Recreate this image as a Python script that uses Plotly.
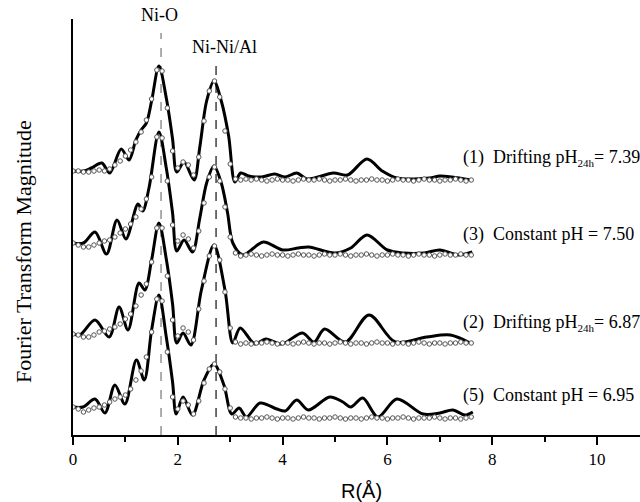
import plotly.graph_objects as go

# ---------------- data ----------------
labels = ["(1)&nbsp; Drifting pH<sub><span style='font-size:11px'>24h</span></sub>= 7.39",
          "(3)&nbsp; Constant pH = 7.50",
          "(2)&nbsp; Drifting pH<sub><span style='font-size:11px'>24h</span></sub>= 6.87",
          "(5)&nbsp; Constant pH = 6.95"]
offsets = [25.4, 18.2, 9.1, 1.8]

# experimental spectra (R, magnitude) key points
exp1_r = [0.0, 0.2, 0.35, 0.55, 0.7, 0.92, 1.07, 1.2, 1.3, 1.4, 1.5, 1.64, 1.78, 1.9, 1.98, 2.12, 2.31, 2.42, 2.55,
          2.69, 2.83, 2.97, 3.09, 3.2, 3.35, 3.6, 3.85, 4.05, 4.27, 4.47, 4.97, 5.24, 5.61, 5.9, 6.18, 6.8, 7.0, 7.23, 7.6]
exp1_m = [1.0, 1.0, 1.3, 1.8, 0.8, 3.2, 2.1, 4.1, 5.1, 5.8, 8.0, 11.5, 8.3, 4.2, 0.9, 1.9, 0.1, 3.4, 8.0,
          10.0, 8.0, 4.5, -0.1, 0.8, 0.5, 0.4, 0.7, 0.4, 0.8, 0.2, 0.8, 0.6, 2.2, 1.0, 0.3, 0.3, 0.5, 0.4, 0.1]

exp2_r = [0.0, 0.2, 0.42, 0.64, 0.84, 1.01, 1.24, 1.33, 1.45, 1.64, 1.78, 1.9, 1.98, 2.12, 2.28, 2.42, 2.55, 2.69,
          2.83, 2.95, 3.05, 3.24, 3.63, 4.0, 4.3, 4.5, 5.0, 5.3, 5.61, 6.0, 6.3, 6.7, 7.0, 7.35, 7.62]
exp2_m = [1.0, 1.0, 2.1, -0.1, 3.3, 1.4, 4.9, 4.2, 6.5, 12.1, 8.5, 4.0, 0.2, 1.3, 0.1, 3.5, 7.0, 8.7,
          7.0, 4.0, 1.0, -0.2, 1.1, 0.3, 0.5, 0.6, 0.0, 0.5, 1.8, 0.3, 0.0, 0.0, 0.3, -0.2, 0.1]

exp3_r = [0.0, 0.13, 0.42, 0.69, 0.88, 1.05, 1.26, 1.37, 1.5, 1.64, 1.78, 1.9, 1.98, 2.1, 2.25, 2.45, 2.69, 2.9,
          3.05, 3.19, 3.47, 3.68, 3.98, 4.38, 4.6, 4.8, 5.2, 5.65, 6.15, 6.75, 7.2, 7.58]
exp3_m = [1.0, 0.9, 2.4, 0.7, 3.7, 1.4, 6.1, 5.4, 8.4, 12.1, 8.5, 4.0, 0.1, 1.1, -0.1, 5.4, 9.9, 5.4,
          0.1, 1.6, 0.0, 0.5, 0.0, 1.1, 0.2, 1.5, 0.2, 2.9, 0.2, 0.7, 0.9, 0.1]

exp4_r = [0.0, 0.19, 0.42, 0.61, 0.8, 0.99, 1.21, 1.36, 1.5, 1.64, 1.78, 1.9, 1.97, 2.1, 2.28, 2.5, 2.69, 2.88,
          3.03, 3.17, 3.31, 3.57, 3.89, 4.05, 4.27, 4.49, 4.9, 5.15, 5.3, 5.53, 5.82, 6.18, 6.68, 7.0, 7.25, 7.48, 7.63]
exp4_m = [1.0, 1.0, 1.8, 0.4, 3.2, 1.3, 5.7, 3.7, 8.7, 12.2, 8.0, 3.5, 0.3, 2.0, 0.2, 3.7, 5.3, 3.2,
          0.3, 0.9, 0.0, 1.4, 0.8, 0.6, 1.7, 0.7, 2.0, 1.5, 1.0, 1.9, 0.0, 1.8, 0.3, 0.4, 0.7, 0.2, 0.5]

# fits, sampled every 0.1 Angstrom from R = 0
fit1_m = [1.0, 1.0, 0.9, 0.9, 1.0, 1.1, 1.0, 1.2, 1.6, 2.0,
          2.5, 3.1, 3.9, 4.9, 6.1, 8.2, 11.1, 11.0, 7.3, 3.0,
          1.3, 1.9, 1.6, 0.6, 2.4, 6.0, 9.0, 10.0, 8.4, 5.0,
          1.7, 0.2, 0.1,
          0.2, 0.1, 0.2, 0.1, 0.0, 0.1, 0.2, 0.1, 0.1, 0.0,
          0.1, 0.2, 0.1, 0.1, 0.2, 0.1, 0.0, 0.1, 0.1, 0.2,
          0.1, 0.0, 0.1, 0.1, 0.2, 0.1, 0.1, 0.0, 0.1, 0.2,
          0.1, 0.1, 0.0, 0.1, 0.2, 0.1, 0.1, 0.0, 0.1, 0.1,
          0.2, 0.1, 0.0, 0.1]
fit2_m = [1.0, 0.8, 0.6, 0.6, 0.8, 1.0, 1.2, 1.3, 1.6, 2.0,
          2.4, 2.9, 3.6, 4.4, 5.4, 7.6, 11.6, 11.5, 7.2, 2.8,
          1.2, 1.8, 1.4, 0.5, 2.2, 5.0, 7.6, 8.6, 7.2, 4.6,
          1.6, 0.0, -0.3,
          -0.2, -0.1, -0.2, -0.3, -0.2, -0.1, -0.2, -0.2, -0.3, -0.2,
          -0.1, -0.2, -0.2, -0.3, -0.2, -0.1, -0.2, -0.2, -0.1, -0.2,
          -0.3, -0.2, -0.2, -0.1, -0.2, -0.3, -0.2, -0.2, -0.1, -0.2,
          -0.2, -0.3, -0.2, -0.1, -0.2, -0.2, -0.3, -0.2, -0.1, -0.2,
          -0.2, -0.1, -0.2, -0.2]
fit3_m = [1.0, 0.9, 0.7, 0.7, 0.9, 1.2, 1.3, 1.5, 1.7, 2.0,
          2.5, 3.0, 3.8, 4.9, 6.0, 8.2, 11.6, 11.6, 6.8, 2.4,
          0.8, 1.6, 1.2, 0.4, 3.5, 6.3, 8.8, 9.8, 8.4, 5.2,
          1.6, 0.2, 0.0,
          0.1, 0.0, 0.1, 0.1, 0.2, 0.1, 0.0, 0.1, 0.1, 0.0,
          0.1, 0.2, 0.1, 0.0, 0.1, 0.1, 0.0, 0.1, 0.2, 0.1,
          0.0, 0.1, 0.1, 0.0, 0.1, 0.2, 0.1, 0.1, 0.0, 0.1,
          0.1, 0.0, 0.1, 0.2, 0.1, 0.0, 0.1, 0.1, 0.0, 0.1,
          0.1, 0.2, 0.1, 0.1]
fit4_m = [1.0, 0.8, 0.5, 0.7, 0.9, 1.0, 1.2, 1.5, 1.8, 2.0,
          2.2, 2.8, 3.7, 4.6, 6.0, 8.5, 11.8, 11.6, 6.5, 2.0,
          0.8, 1.6, 1.2, 0.3, 1.6, 3.4, 4.8, 5.3, 4.5, 2.8,
          0.9, 0.0, -0.1,
          -0.1, -0.2, -0.1, -0.1, 0.0, -0.1, -0.2, -0.1, -0.1, -0.2,
          -0.1, 0.0, -0.1, -0.1, -0.2, -0.1, -0.1, 0.0, -0.1, -0.2,
          -0.1, -0.1, -0.2, -0.1, 0.0, -0.1, -0.1, -0.2, -0.1, -0.1,
          0.0, -0.1, -0.2, -0.1, -0.1, -0.1, 0.0, -0.1, -0.2, -0.1,
          -0.1, -0.2, -0.1, 0.0]

shell_names = ["Ni-O", "Ni-Ni/Al"]
shell_r = [1.68, 2.73]
x_ticks = [0, 2, 4, 6, 8, 10]

# ---------------- figure ----------------
exps = [(exp1_r, exp1_m), (exp2_r, exp2_m), (exp3_r, exp3_m), (exp4_r, exp4_m)]
fits = [fit1_m, fit2_m, fit3_m, fit4_m]

serif = "Liberation Serif, Times New Roman, serif"
fig = go.Figure()

# dashed shell lines
shell_top = [40.2, 37.5]
shell_col = ["#8a8a8a", "#333333"]
for r, top, c in zip(shell_r, shell_top, shell_col):
    fig.add_shape(type="line", x0=r, x1=r, y0=0, y1=top, xref="x", yref="y",
                  line=dict(color=c, width=1.4, dash="dash"), layer="below")

for (er, em), fm, off in zip(exps, fits, offsets):
    fig.add_trace(go.Scatter(x=er, y=[v + off for v in em], mode="lines",
                             line=dict(color="black", width=3, shape="spline", smoothing=0.9),
                             showlegend=False, hoverinfo="skip"))
    fr = [round(0.1 * i, 1) for i in range(len(fm))]
    fig.add_trace(go.Scatter(x=fr, y=[v + off for v in fm], mode="markers",
                             marker=dict(symbol="circle", size=4.5, color="white",
                                         line=dict(color="#555555", width=1)),
                             showlegend=False, hoverinfo="skip"))

label_y = [27.7, 20.1, 11.2, 4.0]
for lab, ly in zip(labels, label_y):
    fig.add_annotation(x=7.41, y=ly, text=lab, showarrow=False, xanchor="left", yanchor="middle",
                       font=dict(family=serif, size=18, color="black"))

# shell labels (paper-referenced y so they may sit above the axis range)
fig.add_annotation(x=1.66, xref="x", yref="paper", y=(435 - 15) / 416, text=shell_names[0], showarrow=False,
                   xanchor="center", yanchor="middle", font=dict(family=serif, size=18, color="black"))
fig.add_annotation(x=2.9, xref="x", yref="paper", y=(435 - 47) / 416, text=shell_names[1], showarrow=False,
                   xanchor="center", yanchor="middle", font=dict(family=serif, size=18, color="black"))

fig.add_annotation(xref="paper", yref="paper", x=-0.0864, y=0.44, text="Fourier Transform Magnitude",
                   textangle=-90, showarrow=False, xanchor="center", yanchor="middle",
                   font=dict(family=serif, size=22, color="black"))
fig.add_annotation(xref="paper", yref="paper", x=0.508, y=-0.135, text="R(Å)",
                   showarrow=False, xanchor="center", yanchor="middle",
                   font=dict(family="Liberation Sans, Arial, sans-serif", size=20, color="black"))

fig.update_layout(
    width=640, height=502,
    margin=dict(l=73, r=0, t=19, b=67),
    paper_bgcolor="white", plot_bgcolor="white",
    xaxis=dict(range=[0, 10.82], showline=True, linecolor="black", linewidth=2,
               tickvals=x_ticks, ticktext=[str(t) for t in x_ticks],
               ticks="outside", ticklen=8, tickwidth=2, tickcolor="black",
               minor=dict(tickvals=[1, 3, 5, 7, 9], ticks="outside", ticklen=5, tickwidth=1.5, tickcolor="black"),
               showgrid=False, zeroline=False,
               tickfont=dict(family=serif, size=17, color="black")),
    yaxis=dict(range=[0, 41.6], showline=True, linecolor="black", linewidth=2,
               showticklabels=False, ticks="", showgrid=False, zeroline=False),
)

fig.write_html("out.html", config={"displayModeBar": False},
               post_script="document.body.style.margin='0';document.body.style.padding='0';"
                           "document.body.style.overflow='hidden';")
